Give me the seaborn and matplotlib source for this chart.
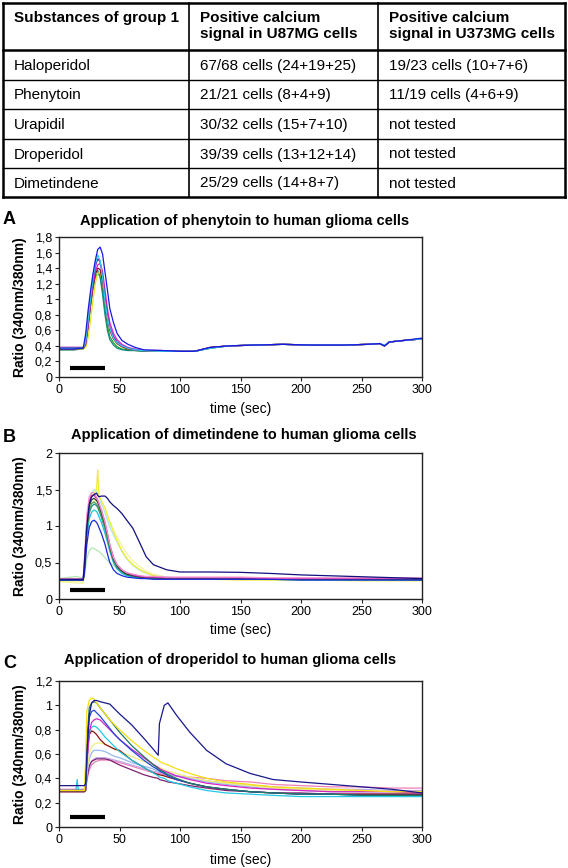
import numpy as np
import pandas as pd
import matplotlib
matplotlib.use("Agg")
import matplotlib.pyplot as plt
from matplotlib.ticker import FuncFormatter
import seaborn as sns

# ---- table ----
table_header = ["Substances of group 1",
                "Positive calcium\nsignal in U87MG cells",
                "Positive calcium\nsignal in U373MG cells"]
substances = ["Haloperidol", "Phenytoin", "Urapidil", "Droperidol", "Dimetindene"]
u87_cells = ["67/68 cells (24+19+25)", "21/21 cells (8+4+9)", "30/32 cells (15+7+10)",
             "39/39 cells (13+12+14)", "25/29 cells (14+8+7)"]
u373_cells = ["19/23 cells (10+7+6)", "11/19 cells (4+6+9)", "not tested",
              "not tested", "not tested"]

# drug application window (sec)
drug_window = [9, 38]

# ---- panel A: phenytoin ----
t_a = [0, 12, 20, 22, 24, 26, 28, 30, 32, 34, 36, 38, 40, 42, 45, 48, 52, 57, 63, 70,
       85, 100, 112, 125, 140, 160, 185, 210, 235, 255, 265, 269, 273, 285, 300]
a_green = [0.35, 0.35, 0.36, 0.40, 0.62, 0.90, 1.12, 1.28, 1.34, 1.30, 1.12, 0.86, 0.66, 0.52, 0.44, 0.39, 0.36, 0.35, 0.34, 0.33,
           0.33, 0.33, 0.33, 0.37, 0.40, 0.41, 0.42, 0.41, 0.41, 0.42, 0.43, 0.40, 0.45, 0.47, 0.49]
a_teal = [0.35, 0.35, 0.36, 0.42, 0.68, 0.96, 1.20, 1.34, 1.37, 1.28, 1.06, 0.80, 0.60, 0.48, 0.41, 0.37, 0.35, 0.34, 0.34, 0.33,
          0.33, 0.33, 0.33, 0.37, 0.40, 0.41, 0.42, 0.41, 0.41, 0.42, 0.43, 0.40, 0.45, 0.47, 0.49]
a_yellow = [0.36, 0.36, 0.36, 0.38, 0.50, 0.72, 0.98, 1.20, 1.33, 1.35, 1.22, 1.00, 0.78, 0.62, 0.50, 0.43, 0.39, 0.36, 0.35, 0.34,
            0.33, 0.33, 0.33, 0.38, 0.40, 0.41, 0.42, 0.41, 0.41, 0.42, 0.43, 0.40, 0.45, 0.47, 0.49]
a_darkred = [0.36, 0.36, 0.37, 0.42, 0.65, 0.92, 1.15, 1.32, 1.40, 1.38, 1.22, 0.98, 0.76, 0.60, 0.49, 0.43, 0.39, 0.36, 0.35, 0.34,
             0.34, 0.33, 0.33, 0.38, 0.40, 0.41, 0.42, 0.41, 0.41, 0.42, 0.43, 0.40, 0.45, 0.47, 0.49]
a_magenta = [0.38, 0.38, 0.38, 0.42, 0.66, 0.95, 1.18, 1.36, 1.44, 1.46, 1.36, 1.12, 0.88, 0.70, 0.56, 0.48, 0.42, 0.38, 0.36, 0.34,
             0.34, 0.33, 0.33, 0.38, 0.40, 0.41, 0.42, 0.41, 0.41, 0.42, 0.43, 0.40, 0.45, 0.47, 0.49]
a_purple = [0.38, 0.38, 0.38, 0.44, 0.70, 0.98, 1.22, 1.42, 1.52, 1.48, 1.30, 1.02, 0.80, 0.64, 0.52, 0.45, 0.40, 0.37, 0.35, 0.34,
            0.34, 0.33, 0.33, 0.38, 0.40, 0.41, 0.42, 0.41, 0.41, 0.42, 0.43, 0.40, 0.45, 0.47, 0.49]
a_cyan = [0.37, 0.37, 0.37, 0.45, 0.72, 1.00, 1.25, 1.45, 1.57, 1.50, 1.28, 0.98, 0.76, 0.62, 0.50, 0.44, 0.40, 0.37, 0.35, 0.34,
          0.33, 0.33, 0.33, 0.37, 0.40, 0.41, 0.42, 0.41, 0.41, 0.42, 0.43, 0.41, 0.45, 0.47, 0.49]
a_blue = [0.36, 0.36, 0.37, 0.55, 0.85, 1.10, 1.32, 1.50, 1.64, 1.67, 1.58, 1.35, 1.12, 0.88, 0.70, 0.56, 0.47, 0.42, 0.38, 0.35,
          0.34, 0.33, 0.33, 0.38, 0.40, 0.41, 0.42, 0.41, 0.41, 0.42, 0.43, 0.40, 0.45, 0.47, 0.50]

# ---- panel B: dimetindene ----
t_b = [0, 15, 20, 21, 23, 25, 27, 29, 31, 32, 33, 35, 38, 40, 42, 45, 48, 52, 56, 61,
       67, 72, 78, 89, 100, 125, 150, 175, 200, 250, 300]
b_lightyellow = [0.24, 0.22, 0.22, 0.30, 0.80, 1.15, 1.30, 1.35, 1.36, 1.35, 1.33, 1.30, 1.22, 1.14, 1.05, 0.95, 0.85, 0.73, 0.62, 0.52,
                 0.44, 0.38, 0.34, 0.30, 0.28, 0.27, 0.27, 0.26, 0.26, 0.26, 0.26]
b_lightgreen = [0.28, 0.31, 0.28, 0.32, 0.55, 0.66, 0.70, 0.69, 0.67, 0.66, 0.65, 0.62, 0.57, 0.53, 0.50, 0.46, 0.42, 0.38, 0.35, 0.33,
                0.31, 0.30, 0.30, 0.29, 0.29, 0.28, 0.28, 0.28, 0.27, 0.27, 0.27]
b_lightcyan = [0.27, 0.27, 0.27, 0.40, 0.95, 1.30, 1.45, 1.50, 1.48, 1.45, 1.40, 1.30, 1.18, 1.08, 0.98, 0.88, 0.78, 0.65, 0.55, 0.46,
               0.39, 0.35, 0.32, 0.30, 0.29, 0.29, 0.28, 0.28, 0.28, 0.27, 0.27]
b_yellow = [0.25, 0.25, 0.25, 0.38, 0.95, 1.30, 1.42, 1.45, 1.50, 1.77, 1.42, 1.35, 1.25, 1.15, 1.05, 0.92, 0.80, 0.66, 0.56, 0.47,
            0.40, 0.36, 0.32, 0.29, 0.28, 0.27, 0.26, 0.26, 0.26, 0.25, 0.25]
b_cyan = [0.26, 0.26, 0.26, 0.38, 0.85, 1.10, 1.19, 1.22, 1.20, 1.17, 1.13, 1.05, 0.90, 0.78, 0.65, 0.50, 0.41, 0.35, 0.32, 0.30,
          0.29, 0.28, 0.28, 0.27, 0.27, 0.27, 0.27, 0.27, 0.26, 0.26, 0.26]
b_teal = [0.26, 0.26, 0.26, 0.40, 0.92, 1.18, 1.27, 1.30, 1.28, 1.25, 1.21, 1.12, 0.96, 0.82, 0.68, 0.52, 0.43, 0.37, 0.33, 0.31,
          0.30, 0.29, 0.28, 0.28, 0.28, 0.28, 0.27, 0.27, 0.27, 0.27, 0.26]
b_green = [0.27, 0.27, 0.27, 0.40, 0.95, 1.22, 1.31, 1.33, 1.30, 1.27, 1.23, 1.14, 0.98, 0.84, 0.70, 0.54, 0.44, 0.38, 0.34, 0.32,
           0.30, 0.29, 0.29, 0.28, 0.28, 0.28, 0.28, 0.27, 0.27, 0.27, 0.27]
b_dark = [0.26, 0.26, 0.26, 0.42, 0.98, 1.28, 1.36, 1.38, 1.35, 1.32, 1.28, 1.18, 1.02, 0.88, 0.72, 0.55, 0.45, 0.38, 0.34, 0.32,
          0.30, 0.29, 0.29, 0.28, 0.28, 0.28, 0.28, 0.27, 0.27, 0.27, 0.27]
b_magenta = [0.27, 0.27, 0.27, 0.45, 1.05, 1.35, 1.42, 1.42, 1.38, 1.35, 1.30, 1.22, 1.05, 0.90, 0.74, 0.57, 0.47, 0.40, 0.36, 0.33,
             0.31, 0.30, 0.30, 0.29, 0.29, 0.29, 0.29, 0.28, 0.28, 0.28, 0.28]
b_pink = [0.28, 0.28, 0.28, 0.55, 1.15, 1.40, 1.46, 1.45, 1.40, 1.36, 1.32, 1.22, 1.05, 0.90, 0.74, 0.57, 0.47, 0.40, 0.36, 0.34,
          0.32, 0.31, 0.31, 0.30, 0.30, 0.30, 0.30, 0.29, 0.29, 0.29, 0.29]
b_blue = [0.26, 0.26, 0.26, 0.35, 0.75, 0.98, 1.06, 1.08, 1.05, 1.02, 0.98, 0.90, 0.75, 0.62, 0.50, 0.40, 0.35, 0.32, 0.30, 0.29,
          0.28, 0.28, 0.27, 0.27, 0.27, 0.27, 0.27, 0.27, 0.26, 0.26, 0.26]
b_navy = [0.27, 0.27, 0.27, 0.50, 1.00, 1.30, 1.40, 1.43, 1.45, 1.42, 1.40, 1.41, 1.41, 1.38, 1.33, 1.28, 1.24, 1.17, 1.08, 0.97,
          0.76, 0.58, 0.47, 0.40, 0.37, 0.37, 0.365, 0.35, 0.33, 0.305, 0.28]

# ---- panel C: droperidol ----
t_c = [0, 14, 15, 16, 21, 22, 23, 25, 27, 29, 31, 34, 38, 42, 46, 50, 60, 70, 77, 82,
       83, 87, 90, 97, 108, 122, 138, 158, 177, 200, 225, 250, 275, 300]
c_pink = [0.31, 0.31, 0.31, 0.31, 0.31, 0.31, 0.38, 0.47, 0.51, 0.53, 0.54, 0.55, 0.55, 0.55, 0.54, 0.53, 0.50, 0.47, 0.45, 0.44,
          0.44, 0.43, 0.43, 0.42, 0.41, 0.40, 0.38, 0.37, 0.35, 0.34, 0.33, 0.33, 0.32, 0.32]
c_lavender = [0.30, 0.30, 0.30, 0.30, 0.30, 0.30, 0.40, 0.50, 0.54, 0.56, 0.57, 0.57, 0.57, 0.56, 0.55, 0.54, 0.51, 0.48, 0.46, 0.45,
              0.45, 0.44, 0.43, 0.42, 0.40, 0.38, 0.36, 0.34, 0.33, 0.32, 0.31, 0.31, 0.30, 0.30]
c_purple = [0.29, 0.29, 0.29, 0.29, 0.29, 0.30, 0.40, 0.50, 0.54, 0.55, 0.56, 0.56, 0.56, 0.55, 0.53, 0.51, 0.47, 0.43, 0.41, 0.40,
            0.39, 0.38, 0.37, 0.36, 0.34, 0.32, 0.30, 0.29, 0.28, 0.28, 0.27, 0.27, 0.27, 0.27]
c_lightblue = [0.30, 0.30, 0.30, 0.30, 0.30, 0.30, 0.42, 0.56, 0.61, 0.63, 0.63, 0.63, 0.62, 0.60, 0.58, 0.57, 0.53, 0.50, 0.48, 0.46,
               0.46, 0.45, 0.44, 0.42, 0.40, 0.37, 0.35, 0.33, 0.31, 0.30, 0.29, 0.29, 0.29, 0.29]
c_lightyellow = [0.30, 0.30, 0.30, 0.30, 0.30, 0.30, 0.45, 0.60, 0.66, 0.68, 0.69, 0.69, 0.68, 0.66, 0.64, 0.62, 0.58, 0.54, 0.51, 0.49,
                 0.49, 0.47, 0.46, 0.44, 0.41, 0.38, 0.36, 0.34, 0.32, 0.31, 0.30, 0.30, 0.29, 0.29]
c_darkred = [0.29, 0.29, 0.29, 0.29, 0.29, 0.30, 0.55, 0.76, 0.79, 0.78, 0.76, 0.72, 0.68, 0.66, 0.64, 0.63, 0.55, 0.49, 0.45, 0.43,
             0.43, 0.42, 0.41, 0.39, 0.36, 0.33, 0.31, 0.29, 0.28, 0.27, 0.27, 0.27, 0.27, 0.27]
c_cyan = [0.30, 0.30, 0.39, 0.30, 0.30, 0.31, 0.55, 0.78, 0.82, 0.83, 0.82, 0.79, 0.74, 0.70, 0.66, 0.62, 0.55, 0.49, 0.45, 0.42,
          0.41, 0.40, 0.38, 0.36, 0.33, 0.30, 0.28, 0.27, 0.26, 0.25, 0.25, 0.25, 0.25, 0.25]
c_magenta = [0.30, 0.30, 0.30, 0.30, 0.30, 0.31, 0.50, 0.78, 0.86, 0.88, 0.89, 0.88, 0.84, 0.80, 0.76, 0.72, 0.64, 0.57, 0.52, 0.49,
             0.48, 0.46, 0.45, 0.42, 0.39, 0.36, 0.34, 0.32, 0.31, 0.30, 0.29, 0.29, 0.29, 0.28]
c_blue = [0.30, 0.30, 0.30, 0.30, 0.30, 0.31, 0.60, 0.90, 0.95, 0.96, 0.94, 0.91, 0.86, 0.81, 0.76, 0.72, 0.63, 0.55, 0.50, 0.47,
          0.46, 0.44, 0.42, 0.39, 0.36, 0.33, 0.31, 0.29, 0.28, 0.27, 0.27, 0.26, 0.26, 0.26]
c_teal = [0.30, 0.30, 0.30, 0.30, 0.30, 0.32, 0.70, 0.98, 1.02, 1.03, 1.02, 0.98, 0.93, 0.88, 0.83, 0.78, 0.67, 0.58, 0.52, 0.48,
          0.47, 0.45, 0.43, 0.40, 0.36, 0.33, 0.31, 0.29, 0.28, 0.27, 0.27, 0.26, 0.26, 0.26]
c_yellow = [0.30, 0.30, 0.30, 0.30, 0.30, 0.55, 0.95, 1.04, 1.06, 1.05, 1.02, 0.98, 0.93, 0.88, 0.84, 0.80, 0.71, 0.63, 0.58, 0.55,
            0.54, 0.52, 0.51, 0.48, 0.44, 0.40, 0.37, 0.35, 0.33, 0.32, 0.31, 0.30, 0.29, 0.29]
c_navy = [0.34, 0.34, 0.34, 0.34, 0.34, 0.36, 0.60, 0.92, 1.02, 1.04, 1.04, 1.03, 1.02, 1.01, 0.97, 0.93, 0.84, 0.73, 0.65, 0.59,
          0.85, 1.00, 1.02, 0.92, 0.78, 0.63, 0.52, 0.44, 0.39, 0.37, 0.35, 0.33, 0.31, 0.28]

panel_a = [("green", a_green, "#1fa31f"), ("teal", a_teal, "#138a80"), ("yellow", a_yellow, "#f2e21c"),
           ("darkred", a_darkred, "#8b1020"), ("magenta", a_magenta, "#e020c8"), ("purple", a_purple, "#7a10a8"),
           ("cyan", a_cyan, "#30d0f0"), ("blue", a_blue, "#1818e0")]
panel_b = [("lightyellow", b_lightyellow, "#f4f49a"), ("lightgreen", b_lightgreen, "#b4e8b0"),
           ("lightcyan", b_lightcyan, "#b0e6f4"), ("yellow", b_yellow, "#f0ec30"), ("cyan", b_cyan, "#18c4e8"),
           ("teal", b_teal, "#18908c"), ("green", b_green, "#48a848"), ("dark", b_dark, "#304030"),
           ("magenta", b_magenta, "#c828c0"), ("pink", b_pink, "#f48cc8"), ("blue", b_blue, "#1c28d8"),
           ("navy", b_navy, "#101080")]
panel_c = [("pink", c_pink, "#f080b8"), ("lavender", c_lavender, "#c0a8e4"), ("purple", c_purple, "#802070"),
           ("lightblue", c_lightblue, "#98b8f0"), ("lightyellow", c_lightyellow, "#f0ee80"),
           ("darkred", c_darkred, "#8c1010"), ("cyan", c_cyan, "#20c8e4"), ("magenta", c_magenta, "#d424c8"),
           ("blue", c_blue, "#2048e0"), ("teal", c_teal, "#207860"), ("yellow", c_yellow, "#f4e010"),
           ("navy", c_navy, "#18188c")]

sns.set_style("ticks")
plt.rcParams['font.family'] = ['Liberation Sans', 'DejaVu Sans']
plt.rcParams['text.color'] = 'black'
plt.rcParams['axes.labelcolor'] = 'black'

W, H = 568, 868
fig = plt.figure(figsize=(W / 100, H / 100), dpi=100)
fig.patch.set_facecolor("white")

# ---- table in pixel coordinates ----
tab = fig.add_axes([0, 0, 1, 1])
tab.set_xlim(0, W)
tab.set_ylim(H, 0)
tab.axis("off")
col_x = [3, 189, 378, 565]
row_y = [3, 50, 80, 109, 139, 168, 197]
for i, y in enumerate(row_y):
    lw = 1.8 if i in (0, 1, len(row_y) - 1) else 1.0
    tab.plot([col_x[0], col_x[-1]], [y, y], color="black", lw=lw, solid_capstyle="projecting")
for j, x in enumerate(col_x):
    lw = 1.8 if j in (0, len(col_x) - 1) else 1.2
    tab.plot([x, x], [row_y[0], row_y[-1]], color="black", lw=lw, solid_capstyle="projecting")
for j, txt in enumerate(table_header):
    tab.text(col_x[j] + 11, 11, txt, fontsize=11, fontweight="bold", va="top", ha="left", linespacing=1.2)
for i in range(len(substances)):
    yc = (row_y[i + 1] + row_y[i + 2]) / 2 + 1
    for j, txt in enumerate([substances[i], u87_cells[i], u373_cells[i]]):
        tab.text(col_x[j] + 11, yc, txt, fontsize=11, va="center", ha="left")


def comma_fmt(v, pos):
    return f"{v:g}".replace(".", ",")


def draw_panel(rect, times, traces, ylim, yticks, bar_level, letter, letter_y,
               title, title_x, title_y, xlabel_y):
    ax = fig.add_axes(rect)
    rows = []
    for name, vals, color in traces:
        for t, v in zip(times, vals):
            rows.append((name, t, v))
    df = pd.DataFrame(rows, columns=["cell", "time", "ratio"])
    palette = {name: color for name, vals, color in traces}
    sns.lineplot(data=df, x="time", y="ratio", hue="cell", palette=palette,
                 hue_order=[n for n, v, c in traces], estimator=None, sort=False,
                 legend=False, lw=0.9, ax=ax)
    # drug application bar
    ax.plot(drug_window, [bar_level, bar_level], color="black", lw=3, solid_capstyle="butt")
    ax.set_xlim(0, 300)
    ax.set_ylim(*ylim)
    ax.set_xticks([0, 50, 100, 150, 200, 250, 300])
    ax.set_yticks(yticks)
    ax.yaxis.set_major_formatter(FuncFormatter(comma_fmt))
    ax.tick_params(axis="both", labelsize=9, length=3, width=0.8, pad=2, colors="#222222",
                   labelcolor="black")
    for s in ax.spines.values():
        s.set_visible(True)
        s.set_color("#222222")
        s.set_linewidth(1.0)
    ax.set_xlabel("time (sec)", fontsize=10)
    ax.set_ylabel("Ratio (340nm/380nm)", fontsize=10, fontweight="bold")
    ax.xaxis.label.set_va("center")
    ax.yaxis.label.set_va("center")
    bottom_px = (1 - rect[1]) * H
    height_px = rect[3] * H
    ax.xaxis.set_label_coords(0.5, -(xlabel_y - bottom_px) / height_px)
    ax.yaxis.set_label_coords(-(59 - 20) / (rect[2] * W), 0.5)
    fig.text(3 / W, 1 - letter_y / H, letter, fontsize=13, fontweight="bold", ha="left", va="center")
    fig.text(title_x / W, 1 - title_y / H, title, fontsize=10.5, fontweight="bold", ha="center", va="center")
    return ax


draw_panel([59 / W, 1 - 377 / H, 363 / W, 140 / H], t_a, panel_a, (0, 1.8),
           [0, 0.2, 0.4, 0.6, 0.8, 1.0, 1.2, 1.4, 1.6, 1.8], 0.115, "A", 219,
           "Application of phenytoin to human glioma cells", 245, 221, 409)
draw_panel([59 / W, 1 - 599 / H, 363 / W, 146 / H], t_b, panel_b, (0, 2),
           [0, 0.5, 1.0, 1.5, 2.0], 0.13, "B", 438,
           "Application of dimetindene to human glioma cells", 244, 435, 630)
draw_panel([59 / W, 1 - 827 / H, 363 / W, 146 / H], t_c, panel_c, (0, 1.2),
           [0, 0.2, 0.4, 0.6, 0.8, 1.0, 1.2], 0.08, "C", 664,
           "Application of droperidol to human glioma cells", 230, 660, 860)

fig.savefig("out.png", dpi=100)
